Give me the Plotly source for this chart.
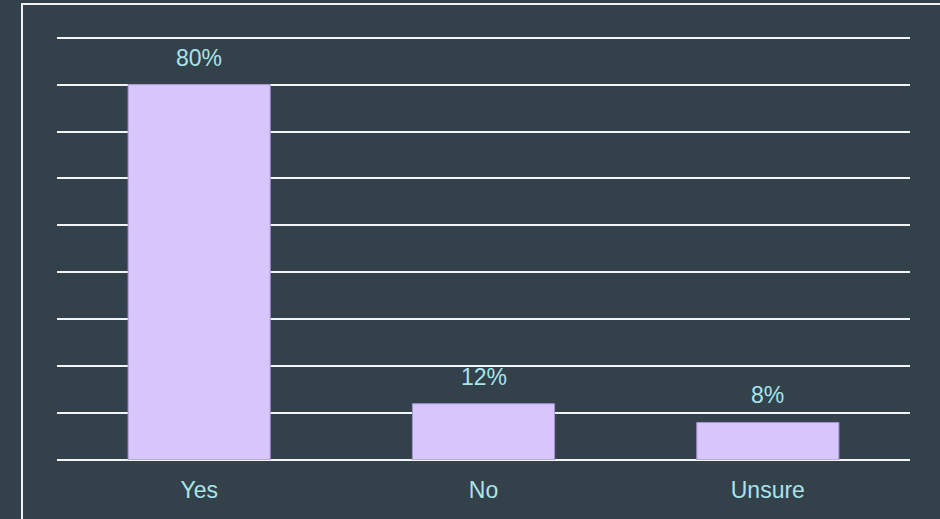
import plotly.graph_objects as go

categories = ["Yes", "No", "Unsure"]
values = [80, 12, 8]
labels = ["80%", "12%", "8%"]

W, H = 940, 519
ml, mr, mt, mb = 57, 30, 33, 59
pw = W - ml - mr
ph = H - mt - mb
FONT = "Liberation Sans, Arial, sans-serif"
TXT = "#a8e4ea"

fig = go.Figure(go.Bar(
    x=categories, y=values,
    marker=dict(color="#d6c6fb", line=dict(color="#a48fd6", width=1)),
    width=0.5,
))

for c, v, t in zip(categories, values, labels):
    fig.add_annotation(x=c, y=v, text=t, showarrow=False, yanchor="middle", yshift=27,
                       font=dict(size=23, color=TXT, family=FONT))

fig.update_layout(
    width=W, height=H,
    margin=dict(l=ml, r=mr, t=mt, b=mb),
    paper_bgcolor="#33414a", plot_bgcolor="#33414a",
    font=dict(family=FONT, color=TXT, size=23),
    showlegend=False,
    xaxis=dict(showgrid=False, showline=False, ticks="", ticklabelstandoff=14,
               tickfont=dict(size=23, color=TXT)),
    yaxis=dict(range=[0, 91], tickvals=list(range(10, 100, 10)), showgrid=True,
               gridcolor="#f2f5f6", gridwidth=2,
               showticklabels=False, zeroline=True, zerolinecolor="#f2f5f6", zerolinewidth=2,
               fixedrange=True),
    shapes=[dict(type="rect", xref="paper", yref="paper",
                 x0=(22 - ml) / pw, x1=1.2, y0=-0.3, y1=1 + (mt - 4) / ph,
                 line=dict(color="#eef2f3", width=2), fillcolor="rgba(0,0,0,0)", layer="below")],
)

fig.write_html("out.html", config={"displayModeBar": False},
               post_script="document.body.style.margin='0';")
